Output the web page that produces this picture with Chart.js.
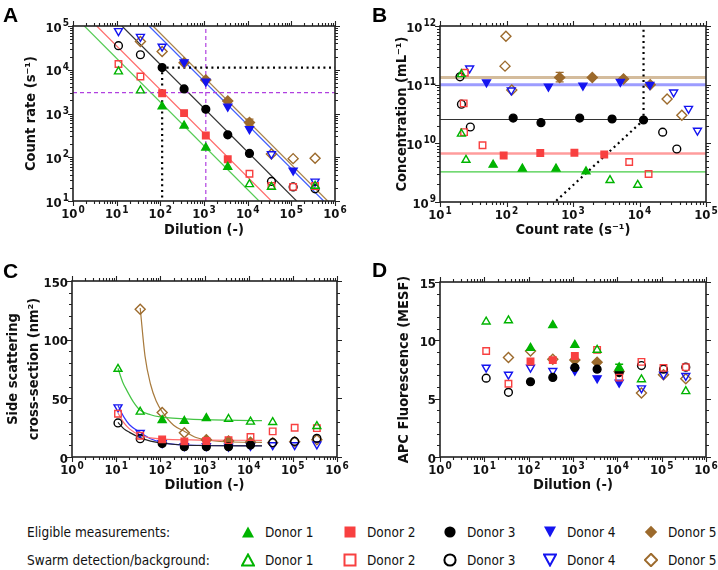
<!DOCTYPE html>
<html>
<head>
<meta charset="utf-8">
<script src="https://cdn.jsdelivr.net/npm/chart.js@4.4.1/dist/chart.umd.min.js"></script>
<style>
  body { margin: 0; background: #fff; }
  #wrap { position: relative; width: 718px; height: 570px; font-family: 'DejaVu Sans Condensed', 'DejaVu Sans', sans-serif; }
  canvas { position: absolute; }
  .letter { position: absolute; font: bold 21px 'Liberation Sans', Arial, sans-serif; color: #000; }
  .leg { position: absolute; font-size: 13.5px; color: #111; white-space: nowrap; line-height: 16px; }
  .leg svg { position: absolute; }
</style>
</head>
<body>
<div id="wrap">
  <canvas id="cA" width="359" height="250" style="left:0;top:0"></canvas>
  <canvas id="cB" width="359" height="250" style="left:359px;top:0"></canvas>
  <canvas id="cC" width="359" height="240" style="left:0;top:262px"></canvas>
  <canvas id="cD" width="359" height="240" style="left:359px;top:262px"></canvas>
  <div class="letter" style="left:3px;top:3px">A</div>
  <div class="letter" style="left:372px;top:3px">B</div>
  <div class="letter" style="left:3px;top:259px">C</div>
  <div class="letter" style="left:372px;top:258px">D</div>
  <div id="legend"></div>
</div>
<script>
// ---- data ----
const donors = ['Donor 1', 'Donor 2', 'Donor 3', 'Donor 4', 'Donor 5'];
const dilution = [11, 35, 110, 350, 1100, 3500, 11000, 35000, 110000, 350000];

// A: count rate (s-1) per donor along the dilution series
const countRate = [
  [9100, 3350, 1450, 525, 165, 60, 24, 21, null, 22],
  [13500, 7000, 2900, 1020, 315, 90, 42, 22, 21, 22],
  [35500, 22000, 11200, 3650, 1250, 325, 122, 28, 21, 19],
  [77000, 57000, 34000, 14900, 5400, 1450, 440, 118, 50, 28],
  [null, 44000, 26000, 14500, 5850, 1940, 625, 118, 93, 95]
];
// 1 = eligible measurement (filled), 0 = swarm detection/background (open)
const eligibleAB = [
  [0, 0, 1, 1, 1, 1, 0, 0, 0, 0],
  [0, 0, 1, 1, 1, 1, 0, 0, 0, 0],
  [0, 0, 1, 1, 1, 1, 1, 0, 0, 0],
  [0, 0, 0, 1, 1, 1, 1, 0, 1, 0],
  [0, 0, 0, 1, 1, 1, 1, 0, 0, 0]
];
// fitted lines in A, end points [dilution, count rate]
const fitRateA = [
  [[1.82, 1e5], [18200, 10]],
  [[3.5, 1e5], [35000, 10]],
  [[13.2, 1e5], [132000, 10]],
  [[55, 1e5], [550000, 10]],
  [[68, 1e5], [680000, 10]]
];
const guideDotsA = [[110, 12], [110, 11200], [1e6, 11200]];
const guideDashVA = [[1100, 10], [1100, 1e5]];
const guideDashHA = [[1, 3000], [1e6, 3000]];
const errA = [[4, 11000, 540, 740]];

// B: count rate (x) and concentration (y)
const rateB = [
  [9400, 3600, 1570, 555, 173, 63, 24.6, 21, null, 21],
  [13700, 7000, 2950, 1050, 322, 90.6, 43.6, 23, 22.7, 23.6],
  [36400, 22300, 11500, 3870, 1260, 330, 126, 28.6, 21, 20],
  [74400, 54600, 32600, 14300, 5150, 1410, 427, 118, 50, 27.9],
  [null, 43300, 26000, 14500, 5750, 1950, 630, 120, 95, 98]
];
const concB = [
  [1.95e9, 2.35e9, 3.3e9, 3.7e9, 3.7e9, 4.3e9, 5.2e9, 1.45e10, null, 1.5e11],
  [3.0e9, 4.8e9, 6.45e9, 6.9e9, 6.85e9, 6.2e9, 9.3e9, 1.55e10, 4.8e10, 1.6e11],
  [8.0e9, 1.55e10, 2.5e10, 2.6e10, 2.7e10, 2.25e10, 2.7e10, 1.9e10, 4.65e10, 1.36e11],
  [1.65e10, 3.9e10, 7.4e10, 1.0e11, 1.12e11, 9.7e10, 9.3e10, 8.0e10, 1.1e11, 1.9e11],
  [null, 3.0e10, 5.7e10, 1.0e11, 1.25e11, 1.33e11, 1.33e11, 8.1e10, 2.07e11, 6.7e11]
];
const meanConcB = [3.25e9, 6.7e9, 2.55e10, 1.0e11, 1.32e11];
const guideDotsB = [[560, 1.05e9], [11500, 2.5e10], [11500, 1e12]];
const errB = [[4, 630, 1.12e11, 1.62e11]];

// C: side scattering cross-section (nm2)
const sideScatter = [
  [75, 38.5, 31.4, 30.6, 33.1, 32.3, 30, 29.7, null, 26.3],
  [36.8, 18.1, 15.0, 13.3, 13.6, 14.4, 17, 21.8, 24.9, 24.6],
  [29, 15.6, 11.6, 8.8, 8.8, 8.8, 10.2, 12.2, 13.3, 15.9],
  [42.5, 20.7, 11.9, 9.3, 9.3, 9.0, 9.6, 10.2, 10.2, 10.8],
  [null, 126, 38, 20.7, 14.7, 13.6, 12.5, 12.2, 13, 14.7]
];
const eligibleC = [
  [0, 0, 1, 1, 1, 0, 0, 0, 0, 0],
  [0, 0, 1, 1, 1, 0, 0, 0, 0, 0],
  [0, 0, 1, 1, 1, 1, 1, 0, 0, 0],
  [0, 0, 1, 1, 1, 1, 1, 0, 0, 0],
  [0, 0, 0, 0, 1, 1, 1, 0, 0, 0]
];
// decay fits in C, [dilution, cross-section]
const fitScatterC = [
  [[11, 75.6], [14, 64], [17.3, 57], [24.5, 47], [34.6, 40], [60, 36], [100, 34.2], [560, 32.1], [20000, 31]],
  [[11, 37.5], [15, 29], [20, 24], [35, 18.5], [60, 16.3], [113, 15.3], [500, 14.6], [20000, 14.2]],
  [[11, 29.5], [15, 24], [20, 21], [35, 16.5], [60, 13.5], [113, 11.7], [400, 10], [20000, 9.4]],
  [[11, 44], [15, 34], [20, 27.5], [35, 21], [60, 15.5], [113, 12.2], [300, 10.3], [1000, 9.8], [20000, 9.6]],
  [[35, 127], [45, 86], [60, 62], [80, 48], [113, 38], [200, 27], [363, 21.6], [600, 17], [1120, 14.5], [3000, 13], [20000, 12.5]]
];

// D: APC fluorescence (MESF)
const apcFluor = [
  [11.6, 11.7, 9.35, 11.3, 9.6, 9.18, 7.67, 6.65, null, 5.63],
  [9.09, 6.28, 8.18, 8.3, 8.66, 9.18, 6.8, 8.15, 7.64, 7.7],
  [6.76, 5.54, 6.45, 6.82, 7.67, 7.53, 7.24, 7.84, 7.53, 7.7],
  [7.67, 7.07, 7.67, 7.39, 7.41, 6.76, 6.39, 5.9, 7.07, 6.96],
  [null, 8.52, 9.09, 8.38, 8.32, 8.12, 7.33, 5.48, 7.05, 6.7]
];
const eligibleD = [
  [0, 0, 1, 1, 1, 0, 1, 0, 0, 0],
  [0, 0, 1, 1, 1, 0, 0, 0, 0, 0],
  [0, 0, 1, 1, 1, 1, 1, 0, 0, 0],
  [0, 0, 0, 0, 1, 1, 1, 0, 0, 0],
  [0, 0, 0, 0, 1, 1, 1, 0, 0, 0]
];
const errD = [[0, 11000, 7.4, 7.95]];

// tick values / labels
const dilTicks = [1, 10, 100, 1e3, 1e4, 1e5, 1e6];
const dilLabels = ['10⁰', '10¹', '10²', '10³', '10⁴', '10⁵', '10⁶'];
const rateTicksA = [10, 100, 1e3, 1e4, 1e5];
const rateLabelsA = ['10¹', '10²', '10³', '10⁴', '10⁵'];
const rateTicksB = [10, 100, 1e3, 1e4, 1e5];
const rateLabelsB = ['10¹', '10²', '10³', '10⁴', '10⁵'];
const concTicks = [1e9, 1e10, 1e11, 1e12];
const concLabels = ['10⁹', '10¹⁰', '10¹¹', '10¹²'];
const scatterTicks = [0, 50, 100, 150];
const apcTicks = [0, 5, 10, 15];

// ---- styles ----
const FONT = "'DejaVu Sans Condensed', 'DejaVu Sans', sans-serif";
const colors = ['#00b400', '#f84040', '#000000', '#1414f0', '#9c6a2c'];
const fitColorsA = ['#55cc55', '#ff6a6a', '#333333', '#3c5cff', '#a8824a'];
const fitColorsC = ['#44c444', '#ff6a6a', '#222222', '#3434ff', '#a87a3c'];
const meanColorsB = ['#44cc44', '#ff9c9c', '#333333', '#9c9cff', '#d4bc9c'];
const meanWidthsB = [1.3, 2.5, 1.2, 3, 3];
const styles = ['triangle', 'rect', 'circle', 'triangle', 'rectRot'];
const rotations = [0, 0, 0, 180, 0];
const radii = [4.6, 4.6, 3.9, 4.6, 5];
const SUP = '⁰¹²³⁴⁵⁶⁷⁸⁹';

function pts(xs, ys, mask, want) {
  const out = [];
  xs.forEach((x, i) => {
    if (x == null || ys[i] == null) return;
    if (mask && mask[i] !== want) return;
    out.push({ x: x, y: ys[i] });
  });
  return out;
}
const xy = arr => arr.map(p => ({ x: p[0], y: p[1] }));

function markerSets(xsFor, ysFor, masks) {
  const sets = [];
  donors.forEach((d, k) => {
    const xs = xsFor(k), ys = ysFor(k);
    [0, 1].forEach(filled => {
      sets.push({
        label: d + (filled ? ' eligible' : ' swarm'),
        data: pts(xs, ys, masks[k], filled),
        pointStyle: styles[k],
        rotation: rotations[k],
        pointRadius: radii[k],
        pointBorderWidth: 1.4,
        pointBorderColor: colors[k],
        pointBackgroundColor: filled ? colors[k] : 'rgba(255,255,255,0)',
        showLine: false,
        order: 1
      });
    });
  });
  return sets;
}
function lineSet(data, color, width, dash, order) {
  return { data: xy(data), showLine: true, pointRadius: 0, borderColor: color,
           borderWidth: width, borderDash: dash || [], fill: false, order: order || 3 };
}

function logTicks(majors) {
  const out = [];
  majors.forEach((m, i) => {
    out.push([m, true]);
    if (i < majors.length - 1) for (let k = 2; k < 10; k++) out.push([m * k, false]);
  });
  return out;
}
function linTicks(majors, step) {
  const out = [];
  const max = majors[majors.length - 1];
  for (let v = 0; v <= max + 1e-9; v += step) out.push([v, majors.some(m => Math.abs(m - v) < 1e-9)]);
  return out;
}

// label with a real raised exponent: '10⁵' -> '10' + small '5'
function drawTickLabel(ctx, text, x, y, align) {
  let base = '', exp = '';
  for (const ch of text) {
    const i = SUP.indexOf(ch);
    if (i >= 0) exp += String(i); else base += ch;
  }
  ctx.font = 'bold 13px ' + FONT;
  const wb = ctx.measureText(base).width;
  ctx.font = 'bold 10px ' + FONT;
  const we = exp ? ctx.measureText(exp).width + 1 : 0;
  const x0 = align === 'center' ? x - (wb + we) / 2 : x - wb - we;
  ctx.font = 'bold 13px ' + FONT;
  ctx.fillText(base, x0, y);
  if (exp) {
    ctx.font = 'bold 10px ' + FONT;
    ctx.fillText(exp, x0 + wb + 1, y - 5.5);
  }
}

// frame with ticks on all four sides, tick labels, error bars
const boxTicks = {
  id: 'boxTicks',
  afterDatasetsDraw(chart, args, opts) {
    const { ctx, chartArea: a } = chart;
    const x = chart.scales.x, y = chart.scales.y;
    ctx.save();
    (opts.err || []).forEach(e => {
      const px = x.getPixelForValue(e[1]);
      const p1 = y.getPixelForValue(e[2]), p2 = y.getPixelForValue(e[3]);
      ctx.strokeStyle = colors[e[0]];
      ctx.lineWidth = 1.3;
      ctx.beginPath();
      ctx.moveTo(px, p1); ctx.lineTo(px, p2);
      ctx.moveTo(px - 4, p1); ctx.lineTo(px + 4, p1);
      ctx.moveTo(px - 4, p2); ctx.lineTo(px + 4, p2);
      ctx.stroke();
    });
    ctx.strokeStyle = '#222';
    ctx.lineWidth = 1.1;
    ctx.beginPath();
    opts.xTicks.forEach(([v, major]) => {
      const px = Math.round(x.getPixelForValue(v)) + 0.5;
      const L = major ? 5 : 3;
      ctx.moveTo(px, a.bottom); ctx.lineTo(px, a.bottom + L);
      ctx.moveTo(px, a.top); ctx.lineTo(px, a.top - L);
    });
    opts.yTicks.forEach(([v, major]) => {
      const py = Math.round(y.getPixelForValue(v)) + 0.5;
      const L = major ? 5 : 3;
      ctx.moveTo(a.left, py); ctx.lineTo(a.left - L, py);
      ctx.moveTo(a.right, py); ctx.lineTo(a.right + L, py);
    });
    ctx.stroke();
    ctx.lineWidth = 1.6;
    ctx.strokeRect(a.left, a.top, a.right - a.left, a.bottom - a.top);

    ctx.fillStyle = '#111';
    ctx.textBaseline = 'alphabetic';
    ctx.textAlign = 'left';
    opts.xLabels.forEach((t, i) => {
      drawTickLabel(ctx, t, x.getPixelForValue(opts.xVals[i]), a.bottom + 17, 'center');
    });
    opts.yLabels.forEach((t, i) => {
      drawTickLabel(ctx, t, a.left - 4, y.getPixelForValue(opts.yVals[i]) + 5.5, 'right');
    });
    ctx.restore();
  }
};

function axis(type, min, max, tickVals, title, size, isX) {
  return {
    type: type, min: min, max: max,
    grid: { display: false, drawTicks: false },
    border: { display: false },
    afterBuildTicks: s => { s.ticks = tickVals.map(v => ({ value: v })); },
    afterFit: s => { if (isX) s.height = size; else s.width = size; },
    ticks: { display: false },
    title: {
      display: true, text: title, color: '#111', padding: isX ? 3 : 2,
      font: { family: FONT, size: 14.5, weight: 'bold', lineHeight: 1.5 }
    }
  };
}

function makeChart(id, datasets, scales, padding, boxOpts) {
  return new Chart(document.getElementById(id), {
    type: 'scatter',
    data: { datasets: datasets },
    options: {
      responsive: false, animation: false,
      layout: { padding: padding },
      scales: scales,
      plugins: { legend: { display: false }, tooltip: { enabled: false }, boxTicks: boxOpts }
    },
    plugins: [boxTicks]
  });
}

// ---- A ----
const setsA = markerSets(() => dilution, k => countRate[k], eligibleAB);
fitRateA.forEach((f, k) => setsA.push(lineSet(f, fitColorsA[k], 1.2)));
setsA.push(lineSet(guideDotsA, '#000', 2.2, [2, 3.6], 2));
setsA.push(lineSet(guideDashVA, '#b040e0', 1.2, [4, 3], 2));
setsA.push(lineSet(guideDashHA, '#b040e0', 1.2, [4, 3], 2));
makeChart('cA', setsA, {
  x: axis('logarithmic', 1, 1e6, dilTicks, 'Dilution (-)', 43, true),
  y: axis('logarithmic', 10, 1e5, rateTicksA, 'Count rate (s⁻¹)', 55, false)
}, { left: 18, right: 24, top: 26, bottom: 6 },
{ xTicks: logTicks(dilTicks), yTicks: logTicks(rateTicksA), err: errA,
  xVals: dilTicks, xLabels: dilLabels, yVals: rateTicksA, yLabels: rateLabelsA });

// ---- B ----
const setsB = markerSets(k => rateB[k], k => concB[k], eligibleAB);
meanConcB.forEach((m, k) => setsB.push(lineSet([[10, m], [1e5, m]], meanColorsB[k], meanWidthsB[k])));
setsB.push(lineSet(guideDotsB, '#000', 2.2, [2, 3.6], 2));
makeChart('cB', setsB, {
  x: axis('logarithmic', 10, 1e5, rateTicksB, 'Count rate (s⁻¹)', 42, true),
  y: axis('logarithmic', 1e9, 1e12, concTicks, 'Concentration (mL⁻¹)', 51, false)
}, { left: 30, right: 12, top: 26, bottom: 6 },
{ xTicks: logTicks(rateTicksB), yTicks: logTicks(concTicks), err: errB,
  xVals: rateTicksB, xLabels: rateLabelsB, yVals: concTicks, yLabels: concLabels });

// ---- C ----
const setsC = markerSets(() => dilution, k => sideScatter[k], eligibleC);
fitScatterC.forEach((f, k) => {
  const s = lineSet(f, fitColorsC[k], 1.2);
  s.cubicInterpolationMode = 'monotone';
  setsC.push(s);
});
makeChart('cC', setsC, {
  x: axis('logarithmic', 1, 1e6, dilTicks, 'Dilution (-)', 42, true),
  y: axis('linear', 0, 150, scatterTicks, ['Side scattering', 'cross-section (nm²)'], 72, false)
}, { left: 0, right: 22, top: 19, bottom: 3 },
{ xTicks: logTicks(dilTicks), yTicks: linTicks(scatterTicks, 10),
  xVals: dilTicks, xLabels: dilLabels, yVals: scatterTicks, yLabels: scatterTicks.map(String) });

// ---- D ----
const setsD = markerSets(() => dilution, k => apcFluor[k], eligibleD);
makeChart('cD', setsD, {
  x: axis('logarithmic', 1, 1e6, dilTicks, 'Dilution (-)', 42, true),
  y: axis('linear', 0, 15, apcTicks, 'APC Fluorescence (MESF)', 49, false)
}, { left: 32, right: 12, top: 20, bottom: 3 },
{ xTicks: logTicks(dilTicks), yTicks: linTicks(apcTicks, 1), err: errD,
  xVals: dilTicks, xLabels: dilLabels, yVals: apcTicks, yLabels: apcTicks.map(String) });

// ---- legend ----
const legendRows = ['Eligible measurements:', 'Swarm detection/background:'];
const legendX = [248, 350, 450, 550, 651];
const legendY = [532, 560];
function glyph(k, filled) {
  const c = colors[k];
  const fill = filled ? c : 'none';
  const sw = filled ? 0 : 2;
  let shape;
  if (k === 0) shape = `<polygon points="7,1.5 13,12.5 1,12.5" fill="${fill}" stroke="${c}" stroke-width="${sw}"/>`;
  else if (k === 1) shape = `<rect x="1.5" y="1.5" width="11" height="11" fill="${fill}" stroke="${c}" stroke-width="${sw}"/>`;
  else if (k === 2) shape = `<circle cx="7" cy="7" r="5.6" fill="${fill}" stroke="${c}" stroke-width="${sw}"/>`;
  else if (k === 3) shape = `<polygon points="1,1.5 13,1.5 7,12.5" fill="${fill}" stroke="${c}" stroke-width="${sw}"/>`;
  else shape = `<polygon points="7,0.8 13.2,7 7,13.2 0.8,7" fill="${fill}" stroke="${c}" stroke-width="${sw}"/>`;
  return `<svg width="14" height="14" viewBox="0 0 14 14" style="left:-7px;top:-7px">${shape}</svg>`;
}
let html = '';
legendRows.forEach((txt, r) => {
  const yc = legendY[r];
  html += `<div class="leg" style="left:27px;top:${yc - 8}px">${txt}</div>`;
  donors.forEach((d, k) => {
    html += `<div class="leg" style="left:${legendX[k]}px;top:${yc}px">${glyph(k, r === 0)}</div>`;
    html += `<div class="leg" style="left:${legendX[k] + 17}px;top:${yc - 8}px">${d}</div>`;
  });
});
document.getElementById('legend').innerHTML = html;
</script>
</body>
</html>
